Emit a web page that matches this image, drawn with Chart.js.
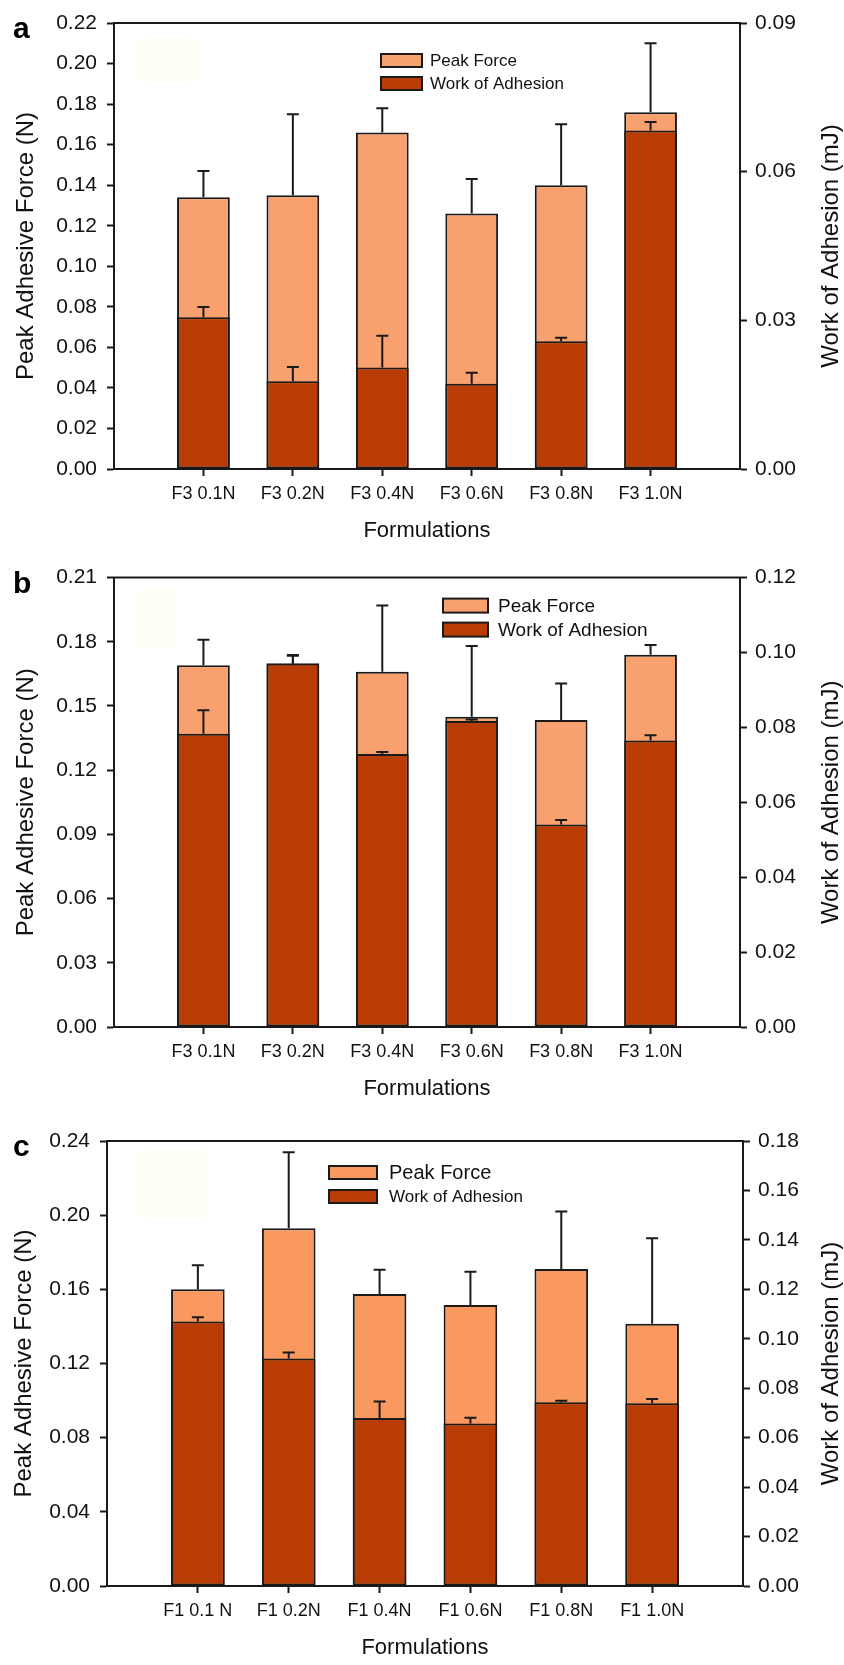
<!DOCTYPE html>
<html>
<head>
<meta charset="utf-8">
<script src="https://cdn.jsdelivr.net/npm/chart.js@4.4.0/dist/chart.umd.min.js"></script>
<style>
  html, body { margin: 0; padding: 0; background: #fff; }
  canvas { display: block; }
</style>
</head>
<body>
<canvas id="chartA" width="844" height="555"></canvas>
<canvas id="chartB" width="844" height="555"></canvas>
<canvas id="chartC" width="844" height="555"></canvas>
<script>
// categories
var labelsF3 = ['F3 0.1N', 'F3 0.2N', 'F3 0.4N', 'F3 0.6N', 'F3 0.8N', 'F3 1.0N'];
var labelsF1 = ['F1 0.1 N', 'F1 0.2N', 'F1 0.4N', 'F1 0.6N', 'F1 0.8N', 'F1 1.0N'];

// panel a - peak force (N) and work of adhesion (mJ), with SD
var peakA = [0.134, 0.135, 0.166, 0.126, 0.140, 0.176];
var peakErrA = [0.013, 0.040, 0.012, 0.017, 0.030, 0.034];
var workA = [0.0306, 0.0177, 0.0205, 0.0172, 0.0258, 0.0683];
var workErrA = [0.0021, 0.0029, 0.0064, 0.0022, 0.0007, 0.0017];

// panel b
var peakB = [0.169, 0.1695, 0.166, 0.145, 0.1435, 0.174];
var peakErrB = [0.012, 0.004, 0.031, 0.033, 0.017, 0.0045];
var workB = [0.0783, 0.0971, 0.0729, 0.0817, 0.0541, 0.0765];
var workErrB = [0.0063, 0.0022, 0.0005, 0.0004, 0.0012, 0.0014];

// panel c
var peakC = [0.160, 0.193, 0.1575, 0.1515, 0.171, 0.1415];
var peakErrC = [0.013, 0.041, 0.013, 0.018, 0.031, 0.046];
var workC = [0.107, 0.092, 0.068, 0.0657, 0.0743, 0.0739];
var workErrC = [0.0017, 0.0024, 0.0066, 0.0024, 0.0006, 0.0017];

// tick labels
var leftTicksA = [0, 0.02, 0.04, 0.06, 0.08, 0.10, 0.12, 0.14, 0.16, 0.18, 0.20, 0.22];
var rightTicksA = [0, 0.03, 0.06, 0.09];
var leftTicksB = [0, 0.03, 0.06, 0.09, 0.12, 0.15, 0.18, 0.21];
var rightTicksB = [0, 0.02, 0.04, 0.06, 0.08, 0.10, 0.12];
var leftTicksC = [0, 0.04, 0.08, 0.12, 0.16, 0.20, 0.24];
var rightTicksC = [0, 0.02, 0.04, 0.06, 0.08, 0.10, 0.12, 0.14, 0.16, 0.18];

var FONT = '"Liberation Sans", Arial, Helvetica, sans-serif';
var INK = '#1a1a1a';
Chart.defaults.font.family = FONT;
Chart.defaults.color = '#111';

function pad(arr) { return [null].concat(arr, [null]); }

var errorBars = {
	id: 'errorBars',
	afterDatasetsDraw: function(chart) {
		var ctx = chart.ctx;
		chart.data.datasets.forEach(function(ds, i) {
			var meta = chart.getDatasetMeta(i);
			var scale = chart.scales[ds.yAxisID];
			ctx.save();
			ctx.strokeStyle = INK;
			ctx.lineWidth = 2;
			meta.data.forEach(function(bar, j) {
				var v = ds.data[j], e = ds.errors[j];
				if (v == null || e == null) return;
				var yb = scale.getPixelForValue(v);
				var yt = scale.getPixelForValue(v + e);
				ctx.beginPath();
				ctx.moveTo(bar.x, yb);
				ctx.lineTo(bar.x, yt);
				ctx.moveTo(bar.x - 6, yt);
				ctx.lineTo(bar.x + 6, yt);
				ctx.stroke();
			});
			ctx.restore();
		});
	}
};

var decor = {
	id: 'decor',
	beforeDatasetsDraw: function(chart, args, o) {
		var a = chart.chartArea, ctx = chart.ctx;
		ctx.save();
		ctx.fillStyle = '#fffef7';
		ctx.fillRect(a.left + o.pale[0], a.top + o.pale[1], o.pale[2], o.pale[3]);
		ctx.restore();
	},
	afterDraw: function(chart, args, o) {
		var a = chart.chartArea, ctx = chart.ctx;
		ctx.save();
		// top frame line
		ctx.strokeStyle = INK;
		ctx.lineWidth = 2;
		ctx.beginPath();
		ctx.moveTo(a.left - 1, a.top);
		ctx.lineTo(a.right + 1, a.top);
		ctx.stroke();
		// panel letter
		ctx.fillStyle = '#000';
		ctx.font = 'bold 30px ' + FONT;
		ctx.textAlign = 'left';
		ctx.textBaseline = 'alphabetic';
		ctx.fillText(o.letter, 13, a.top + 15);
		// right axis title, reading bottom to top
		ctx.translate(chart.width - 13, (a.top + a.bottom) / 2);
		ctx.rotate(-Math.PI / 2);
		ctx.font = '24px ' + FONT;
		ctx.fillStyle = '#111';
		ctx.textAlign = 'center';
		ctx.textBaseline = 'middle';
		ctx.fillText(o.rightTitle, 0, 0);
		ctx.restore();
	}
};

var boxLegend = {
	id: 'boxLegend',
	afterDraw: function(chart, args, o) {
		var a = chart.chartArea, ctx = chart.ctx;
		ctx.save();
		chart.data.datasets.forEach(function(ds, i) {
			var x = a.left + o.x, y = a.top + o.y + i * o.rowGap;
			ctx.fillStyle = ds.backgroundColor;
			ctx.fillRect(x, y, o.boxW, o.boxH);
			ctx.strokeStyle = INK;
			ctx.lineWidth = 2;
			ctx.strokeRect(x, y, o.boxW, o.boxH);
			ctx.fillStyle = '#111';
			ctx.font = o.sizes[i] + 'px ' + FONT;
			ctx.textAlign = 'left';
			ctx.textBaseline = 'middle';
			ctx.fillText(ds.label, x + o.boxW + o.gap, y + o.boxH / 2 + 1);
		});
		ctx.restore();
	}
};

function makeChart(id, p) {
	var H = 555, W = 844;
	var n = p.labels.length;
	var tickCol = function(c) { return (c.index === 0 || c.index === n + 1) ? 'rgba(0,0,0,0)' : INK; };
	var yTicks = function(arr) { return function(s) { s.ticks = arr.map(function(v) { return { value: v }; }); }; };
	return new Chart(document.getElementById(id), {
		type: 'bar',
		data: {
			labels: [''].concat(p.labels, ['']),
			datasets: [
				{
					label: 'Peak Force',
					data: pad(p.peak),
					errors: pad(p.peakErr),
					yAxisID: 'y',
					backgroundColor: p.light,
					borderColor: INK,
					borderWidth: 2,
					borderSkipped: false,
					order: 2
				},
				{
					label: 'Work of Adhesion',
					data: pad(p.work),
					errors: pad(p.workErr),
					yAxisID: 'y2',
					backgroundColor: '#b83c03',
					borderColor: INK,
					borderWidth: 2,
					borderSkipped: false,
					order: 1
				}
			]
		},
		options: {
			responsive: false,
			animation: false,
			layout: { padding: { top: p.top, left: 0, right: 0, bottom: 0 } },
			datasets: { bar: { grouped: false, categoryPercentage: 1, barPercentage: 0.59 } },
			plugins: {
				legend: { display: false },
				tooltip: { enabled: false },
				decor: { letter: p.letter, rightTitle: 'Work of Adhesion (mJ)', pale: p.pale },
				boxLegend: p.legend
			},
			scales: {
				x: {
					type: 'category',
					offset: false,
					afterFit: function(s) { s.height = H - p.bottom; },
					grid: { display: true, offset: false, drawOnChartArea: false, drawTicks: true, tickLength: 7, tickWidth: 2, tickColor: tickCol },
					border: { display: true, color: INK, width: 2 },
					ticks: { autoSkip: false, maxRotation: 0, padding: 7, font: { size: 18 }, color: '#111' },
					title: { display: true, text: 'Formulations', font: { size: 22 }, color: '#111', padding: { top: 0, bottom: H - p.bottom - 62 - 13 } }
				},
				y: {
					position: 'left',
					min: p.leftTicks[0],
					max: p.leftTicks[p.leftTicks.length - 1],
					afterBuildTicks: yTicks(p.leftTicks),
					afterFit: function(s) { s.width = p.left; },
					grid: { display: true, drawOnChartArea: false, drawTicks: true, tickLength: 7, tickWidth: 2, tickColor: INK },
					border: { display: true, color: INK, width: 2 },
					ticks: { autoSkip: false, padding: 10, font: { size: 21 }, color: '#111', callback: function(v) { return Number(v).toFixed(2); } },
					title: { display: true, text: 'Peak Adhesive Force (N)', font: { size: 24 }, color: '#111', padding: { top: p.leftTitlePad, bottom: 0 } }
				},
				y2: {
					position: 'right',
					min: p.rightTicks[0],
					max: p.rightTicks[p.rightTicks.length - 1],
					afterBuildTicks: yTicks(p.rightTicks),
					afterFit: function(s) { s.width = W - p.right; },
					grid: { display: true, drawOnChartArea: false, drawTicks: true, tickLength: 7, tickWidth: 2, tickColor: INK },
					border: { display: true, color: INK, width: 2 },
					ticks: { autoSkip: false, padding: 8, font: { size: 21 }, color: '#111', callback: function(v) { return Number(v).toFixed(2); } },
					title: { display: false }
				}
			}
		},
		plugins: [decor, errorBars, boxLegend]
	});
}

makeChart('chartA', {
	letter: 'a', labels: labelsF3,
	peak: peakA, peakErr: peakErrA, work: workA, workErr: workErrA,
	leftTicks: leftTicksA, rightTicks: rightTicksA,
	light: '#f9a06f',
	top: 23, bottom: 469, left: 114, right: 740, leftTitlePad: 12,
	pale: [19, 15, 64, 44],
	legend: { x: 267, y: 31, boxW: 41, boxH: 13, rowGap: 23, gap: 8, sizes: [17, 17] }
});

makeChart('chartB', {
	letter: 'b', labels: labelsF3,
	peak: peakB, peakErr: peakErrB, work: workB, workErr: workErrB,
	leftTicks: leftTicksB, rightTicks: rightTicksB,
	light: '#f9a06f',
	top: 22, bottom: 472, left: 114, right: 740, leftTitlePad: 12,
	pale: [19, 11, 44, 60],
	legend: { x: 329, y: 21, boxW: 45, boxH: 14, rowGap: 24, gap: 10, sizes: [19, 19] }
});

makeChart('chartC', {
	letter: 'c', labels: labelsF1,
	peak: peakC, peakErr: peakErrC, work: workC, workErr: workErrC,
	leftTicks: leftTicksC, rightTicks: rightTicksC,
	light: '#f9985f',
	top: 31, bottom: 476, left: 107, right: 743, leftTitlePad: 10,
	pale: [26, 9, 74, 68],
	legend: { x: 222, y: 25, boxW: 48, boxH: 13, rowGap: 24, gap: 12, sizes: [20, 17] }
});
</script>
</body>
</html>
